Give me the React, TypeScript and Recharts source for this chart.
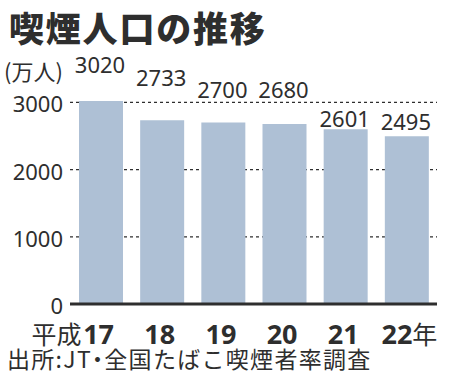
import { BarChart, Bar, XAxis, YAxis, CartesianGrid, LabelList } from "recharts"

const years = ["17", "18", "19", "20", "21", "22"]
const smokers = [3020, 2733, 2700, 2680, 2601, 2495]
const yTicks = [0, 1000, 2000, 3000]
const gridValues = [1000, 2000, 3000]

const title = "喫煙人口の推移"
const unit = "(万人)"
const era = "平成"
const yearSuffix = "年"
const sourceHead = "出所:JT"
const sourceDot = "・"
const sourceTail = "全国たばこ喫煙者率調査"

// how far each value label sits above its bar (the original staggers them)
const labelLift = [28, 34, 25, 26, 2, 6]

const data = years.map((y, i) => ({ year: y, value: smokers[i] }))

const ink = "#2e2e2e"
const barColor = "#aec0d5"
const jp = "'Noto Sans CJK JP', 'Noto Sans', sans-serif"
const num = "'Noto Sans', sans-serif"

function YTick(props: any) {
  const { x, y, payload } = props
  return (
    <text x={x} y={y} dy={10} textAnchor="end" fontSize={22} fontFamily={num} fill={ink}>
      {payload.value}
    </text>
  )
}

function XTick(props: any) {
  const { x, y, payload, index } = props
  const last = index === years.length - 1
  if (last) {
    return (
      <text x={x + 3} y={y + 40} textAnchor="middle" fill={ink} fontFamily={num}>
        <tspan fontSize={27} fontWeight={700}>{payload.value}</tspan>
        <tspan fontSize={25} fontFamily={jp}>{yearSuffix}</tspan>
      </text>
    )
  }
  return (
    <g>
      {index === 0 && (
        <text x={x - 19} y={y + 40} textAnchor="end" fontSize={25} fontFamily={jp} fill={ink}>
          {era}
        </text>
      )}
      <text x={x - 2} y={y + 40} textAnchor="middle" fontSize={27} fontWeight={700} fontFamily={num} fill={ink}>
        {payload.value}
      </text>
    </g>
  )
}

function ValueLabel(props: any) {
  const { x, y, width, value, index } = props
  return (
    <text
      x={x + width / 2 - 1}
      y={y - labelLift[index]}
      textAnchor="middle"
      fontSize={22}
      fontFamily={num}
      fill={ink}
    >
      {value}
    </text>
  )
}

export default function App() {
  return (
    <div style={{ position: "absolute", left: 0, top: 0, width: 450, height: 384, background: "#fff" }}>
      <BarChart
        width={450}
        height={384}
        data={data}
        margin={{ top: 94, right: 13, bottom: 0, left: 0 }}
        barSize={44}
      >
        <CartesianGrid
          vertical={false}
          horizontalValues={gridValues}
          stroke={ink}
          strokeDasharray="3 3"
          strokeWidth={1.2}
        />
        <YAxis
          width={70}
          domain={[0, 3125]}
          ticks={yTicks}
          axisLine={false}
          tickLine={false}
          tickSize={0}
          tickMargin={7}
          tick={<YTick />}
        />
        <XAxis
          dataKey="year"
          height={80}
          tickLine={false}
          tickSize={0}
          tickMargin={0}
          axisLine={{ stroke: ink, strokeWidth: 3 }}
          tick={<XTick />}
          interval={0}
        />
        <Bar dataKey="value" fill={barColor} isAnimationActive={false}>
          <LabelList dataKey="value" content={<ValueLabel />} />
        </Bar>
      </BarChart>
      <svg
        width={450}
        height={384}
        style={{ position: "absolute", left: 0, top: 0, pointerEvents: "none" }}
      >
        <text x={9} y={42} fontSize={35} fontWeight={900} letterSpacing={1.8} fontFamily={jp} fill={ink}>
          {title}
        </text>
        <text x={4} y={80} fontSize={22} fontFamily={jp} fill={ink}>
          {unit}
        </text>
        <text x={7} y={368} fontSize={23} letterSpacing={1.3} fontFamily={jp} fill={ink}>
          <tspan>{sourceHead}</tspan>
          <tspan dx={-6}>{sourceDot}</tspan>
          <tspan dx={-6}>{sourceTail}</tspan>
        </text>
      </svg>
    </div>
  )
}
